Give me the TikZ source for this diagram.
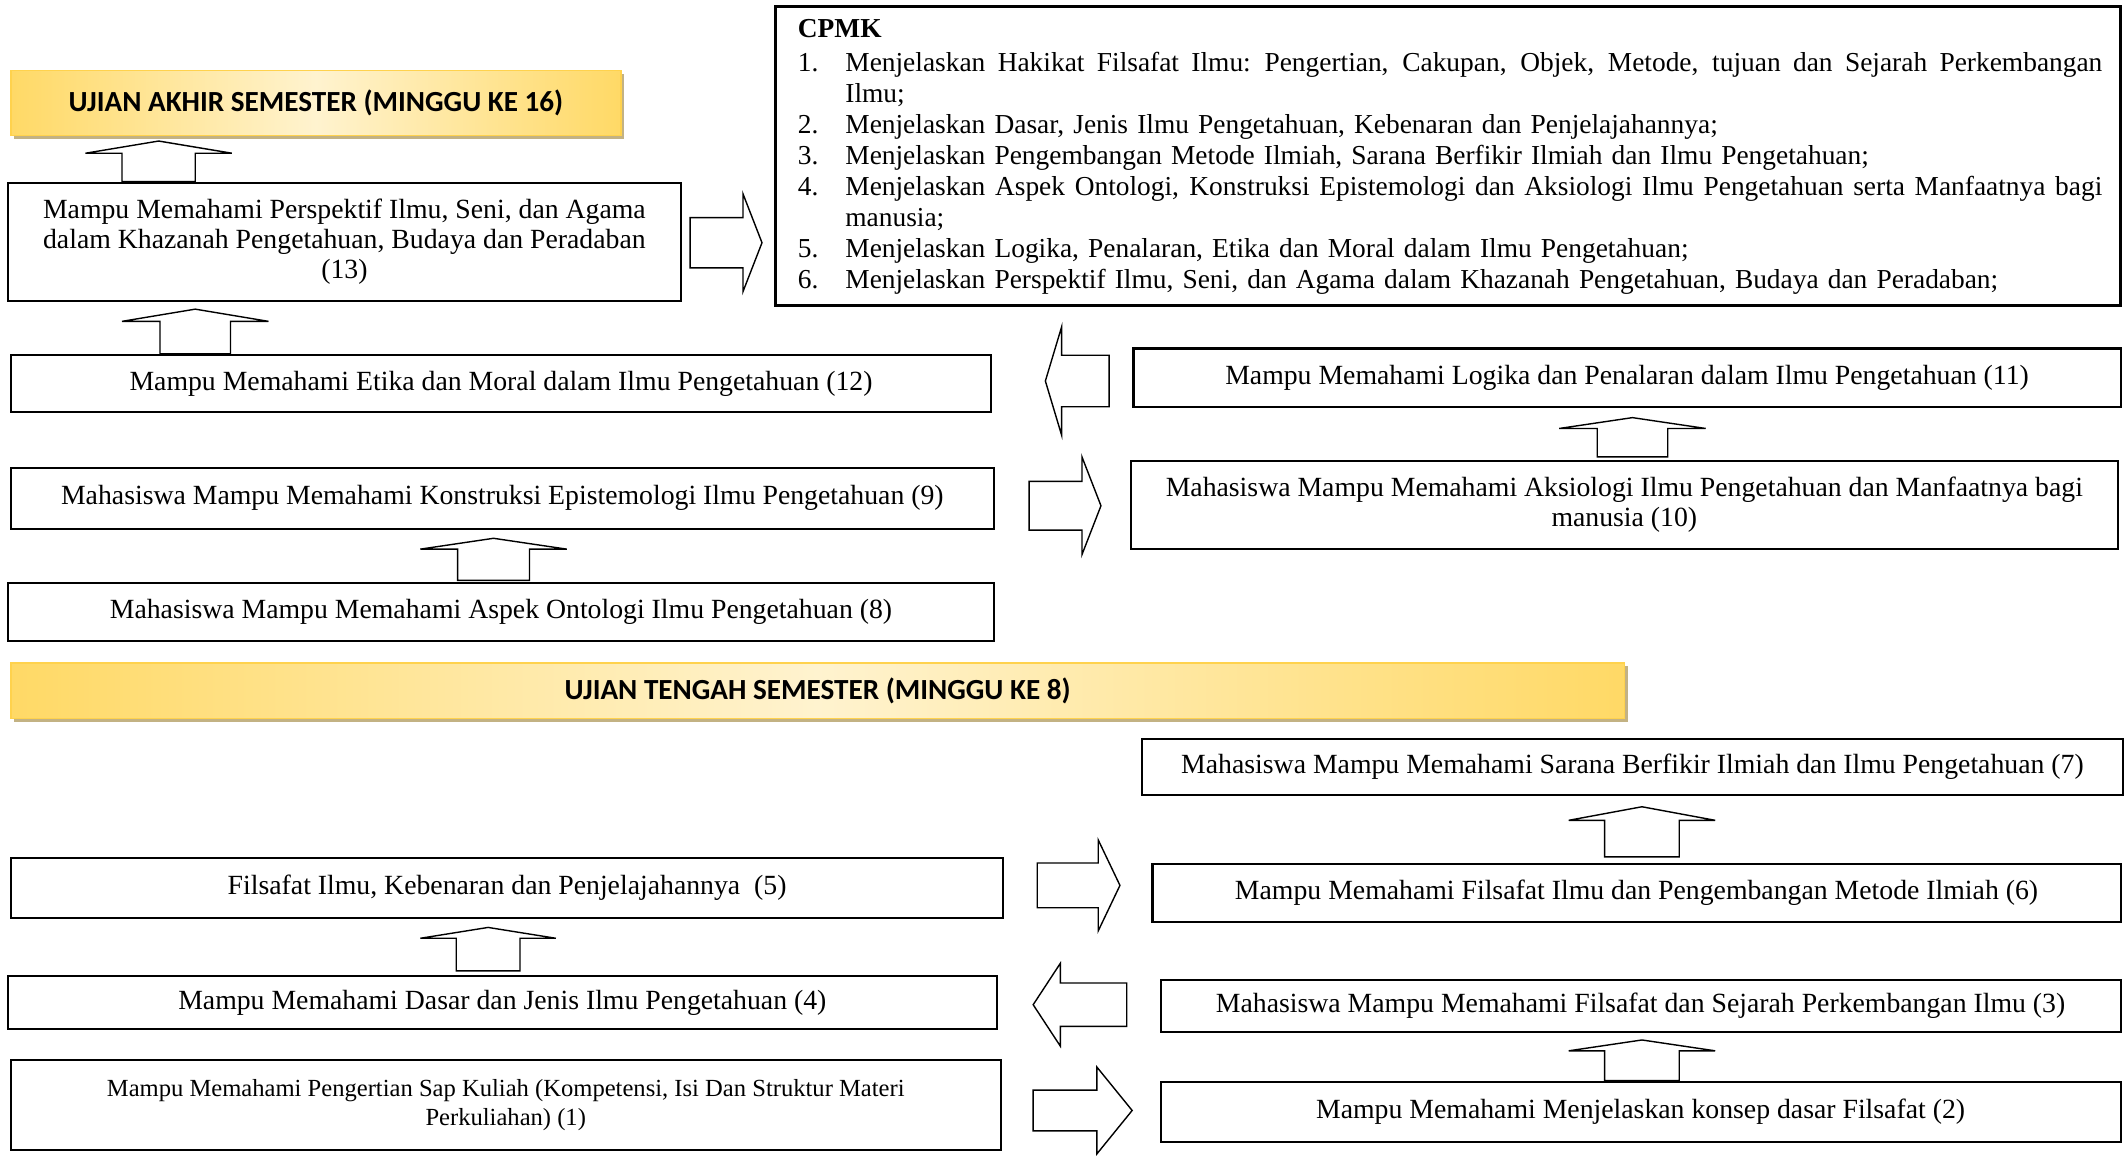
\documentclass[tikz,border=0pt]{standalone}
\usepackage{fontspec}
\setmainfont{Liberation Serif}
\newfontfamily\headfont{Carlito}
\usetikzlibrary{shadows}
\newlength\px \setlength\px{0.01356cm}
\definecolor{barlight}{HTML}{FFF3CF}
\definecolor{bardark}{HTML}{FFD966}
\definecolor{barline}{HTML}{FFD24D}
\definecolor{barshadow}{HTML}{C3B283}
% block arrow: (tail)[angle](length:head:shaft half:head half)
\def\blkarrow(#1)[#2](#3:#4:#5:#6){\draw[arrowline, shift={(#1)}, rotate=#2] (0,-#5) -- ({#3-#4},-#5) -- ({#3-#4},-#6) -- (#3,0) -- ({#3-#4},#6) -- ({#3-#4},#5) -- (0,#5) -- cycle;}
% first line of a justified item
\newcommand\fullline[1]{\makebox[927\px][s]{\spaceskip=0.25em plus 1fil\relax #1}}

\begin{document}
\begin{tikzpicture}[x=0.01356cm, y=-0.01356cm,
		box/.style={draw, line width=0.6pt, inner sep=0pt, align=center, font=\fontsize{7.9}{8.5}\selectfont},
		bar/.style={draw=barline, line width=0.4pt, inner sep=0pt, left color=bardark, right color=bardark, middle color=barlight, font=\headfont\bfseries\fontsize{8.3}{9}\selectfont, drop shadow={shadow xshift=2.5\px, shadow yshift=-2.5\px, fill=barshadow, opacity=1}},
		arrowline/.style={draw, line width=0.4pt, fill=white}]
		%%%%% START %%%%%
		\useasboundingbox (0,0) rectangle (1568,852);
		
		\node[bar, minimum width=450\px, minimum height=48\px] (uas) at (233,76) {UJIAN AKHIR SEMESTER (MINGGU KE 16)};
		\node[bar, minimum width=1190\px, minimum height=41\px] (uts) at (603,509.5) {UJIAN TENGAH SEMESTER (MINGGU KE 8)};
		
		% cpmk
		\node[box, line width=0.9pt, minimum width=992\px, minimum height=220\px] (cpmk) at (1068,115) {};
		\node[anchor=north west, inner sep=0pt, text width=975\px, align=left, font=\fontsize{7.8}{8.84}\selectfont] (cpmklist) at (588,14) {%
			\textbf{CPMK}\par\vspace{2\px}
			\makebox[35\px][l]{1.}\fullline{Menjelaskan Hakikat Filsafat Ilmu: Pengertian, Cakupan, Objek, Metode, tujuan dan Sejarah Perkembangan}\par
			\hspace*{35\px}Ilmu;\par
			\makebox[35\px][l]{2.}Menjelaskan Dasar, Jenis Ilmu Pengetahuan, Kebenaran dan Penjelajahannya;\par
			\makebox[35\px][l]{3.}Menjelaskan Pengembangan Metode Ilmiah, Sarana Berfikir Ilmiah dan Ilmu Pengetahuan;\par
			\makebox[35\px][l]{4.}\fullline{Menjelaskan Aspek Ontologi, Konstruksi Epistemologi dan Aksiologi Ilmu Pengetahuan serta Manfaatnya bagi}\par
			\hspace*{35\px}manusia;\par
			\makebox[35\px][l]{5.}Menjelaskan Logika, Penalaran, Etika dan Moral dalam Ilmu Pengetahuan;\par
			\makebox[35\px][l]{6.}Menjelaskan Perspektif Ilmu, Seni, dan Agama dalam Khazanah Pengetahuan, Budaya dan Peradaban;};
		
		% after uts
		\node[box, minimum width=496\px, minimum height=87\px] (b13) at (254,178.5) {Mampu Memahami Perspektif Ilmu, Seni, dan Agama\\dalam Khazanah Pengetahuan, Budaya dan Peradaban\\(13)};
		\node[box, minimum width=723\px, minimum height=42\px] (b12) at (369.5,283) {Mampu Memahami Etika dan Moral dalam Ilmu Pengetahuan (12)};
		\node[box, minimum width=728\px, minimum height=43\px] (b11) at (1200,278.5) {Mampu Memahami Logika dan Penalaran dalam Ilmu Pengetahuan (11)};
		\node[box, minimum width=728\px, minimum height=65\px] (b10) at (1198,372.5) {Mahasiswa Mampu Memahami Aksiologi Ilmu Pengetahuan dan Manfaatnya bagi\\manusia (10)};
		\node[box, minimum width=725\px, minimum height=45\px] (b9) at (370.5,367.5) {Mahasiswa Mampu Memahami Konstruksi Epistemologi Ilmu Pengetahuan (9)};
		\node[box, minimum width=727\px, minimum height=43\px] (b8) at (369.5,451.5) {Mahasiswa Mampu Memahami Aspek Ontologi Ilmu Pengetahuan (8)};
		
		% before uts
		\node[box, minimum width=724\px, minimum height=41\px] (b7) at (1204,565.5) {Mahasiswa Mampu Memahami Sarana Berfikir Ilmiah dan Ilmu Pengetahuan (7)};
		\node[box, minimum width=714\px, minimum height=43\px] (b6) at (1207,658.5) {Mampu Memahami Filsafat Ilmu dan Pengembangan Metode Ilmiah (6)};
		\node[box, minimum width=732\px, minimum height=44\px] (b5) at (374,655) {Filsafat Ilmu, Kebenaran dan Penjelajahannya\ \ (5)};
		\node[box, minimum width=729\px, minimum height=39\px] (b4) at (370.5,739.5) {Mampu Memahami Dasar dan Jenis Ilmu Pengetahuan (4)};
		\node[box, minimum width=708\px, minimum height=38\px] (b3) at (1210,742) {Mahasiswa Mampu Memahami Filsafat dan Sejarah Perkembangan Ilmu (3)};
		\node[box, minimum width=708\px, minimum height=44\px] (b2) at (1210,820) {Mampu Memahami Menjelaskan konsep dasar Filsafat (2)};
		\node[box, minimum width=730\px, minimum height=66\px, font=\fontsize{7}{8}\selectfont] (b1) at (373,815) {Mampu Memahami Pengertian Sap Kuliah (Kompetensi, Isi Dan Struktur Materi\\Perkuliahan) (1)};
		
		% up arrows
		\blkarrow(117,134)[90](30:9:27:54)
		\blkarrow(144,261)[90](33:9:26:54)
		\blkarrow(1204,337)[90](29:8:26:54)
		\blkarrow(364,428)[90](31:8:26.5:54)
		\blkarrow(1211,632)[90](37:10:27.5:54)
		\blkarrow(360,716)[90](32:8:23.5:50)
		\blkarrow(1211,797)[90](30:8:27.5:54)
		
		% side arrows
		\blkarrow(509,179)[0](53:14:18.5:36)
		\blkarrow(818,281)[180](47:12:19:40)
		\blkarrow(759,373)[0](53:14:18:36)
		\blkarrow(765,653)[0](61:16:16.5:33.5)
		\blkarrow(831,741)[180](69:20:16:30.5)
		\blkarrow(762,819)[0](73:26:15:32)
		
		%%%%% END %%%%%
\end{tikzpicture}
\end{document}
